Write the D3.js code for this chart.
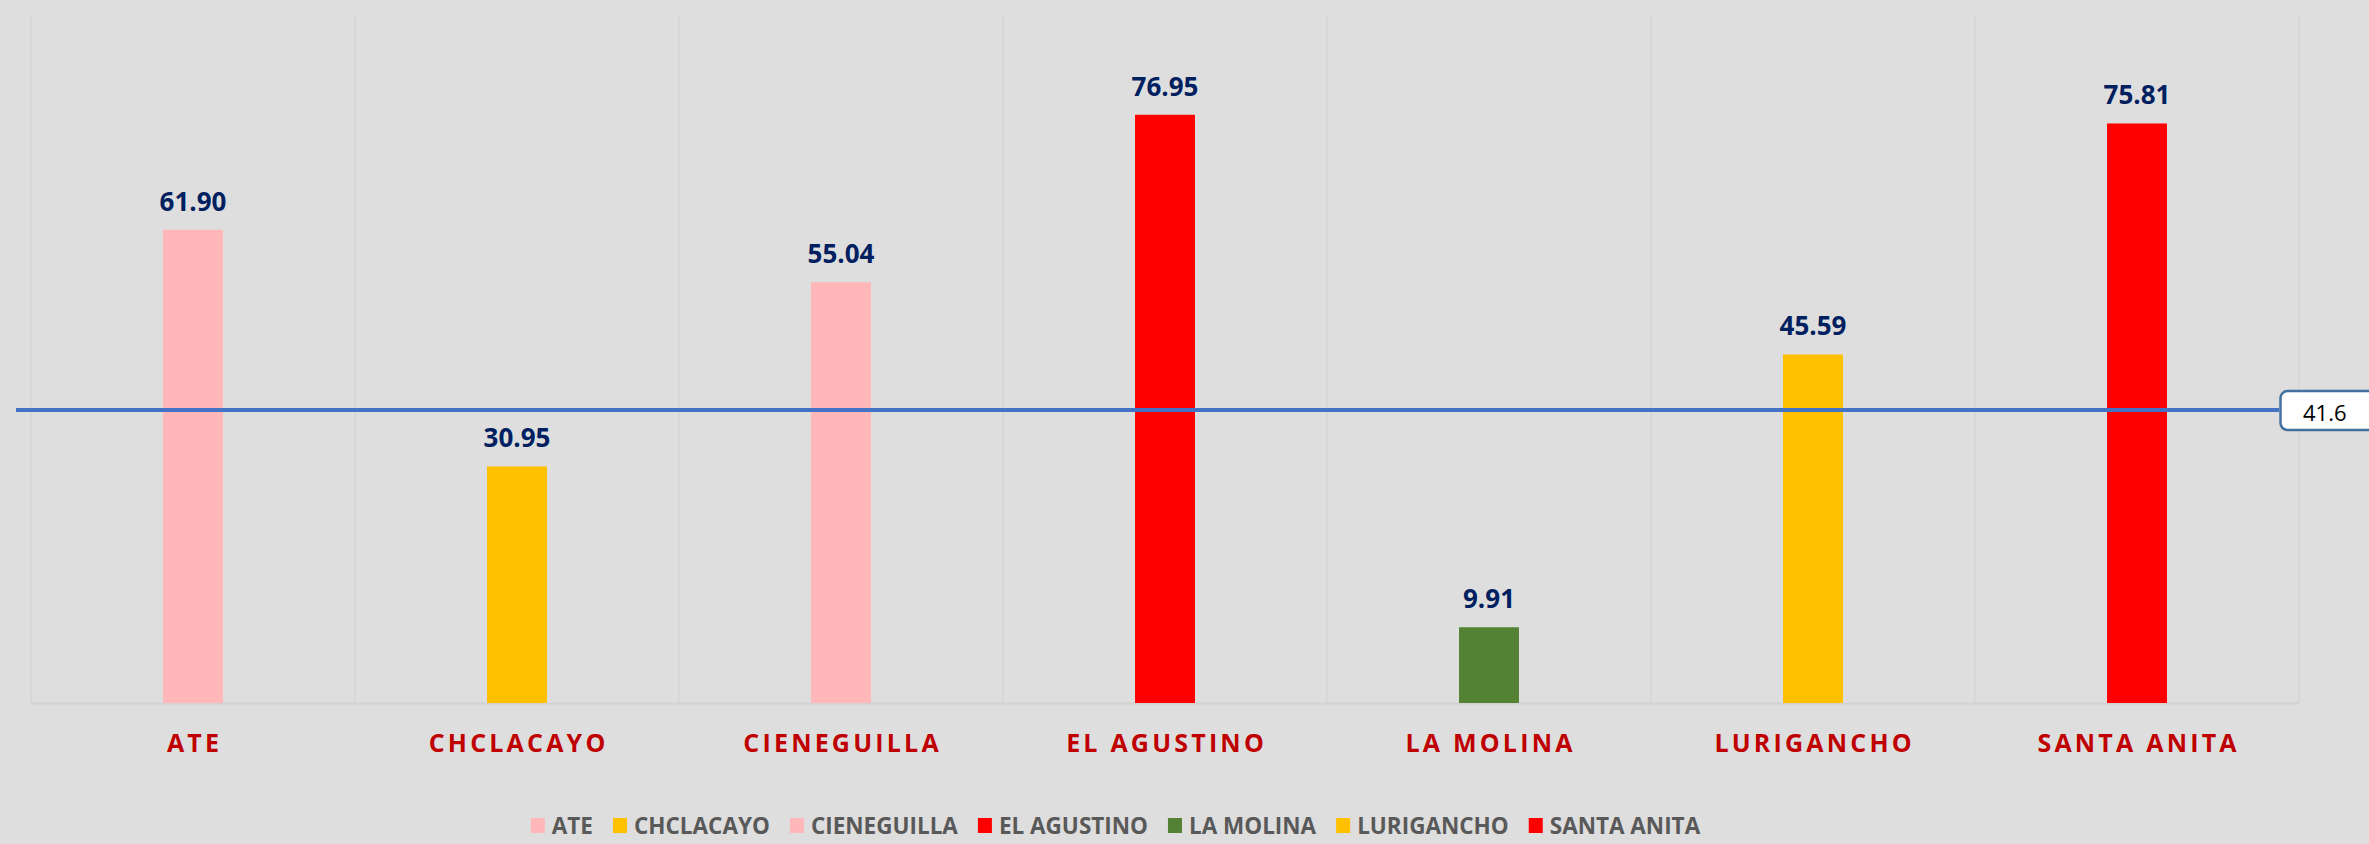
<!DOCTYPE html>
<html>
<head>
<meta charset="utf-8">
<script src="https://cdn.jsdelivr.net/npm/d3@7"></script>
<style>
  html, body { margin: 0; padding: 0; background: #dedede; }
  svg { display: block; }
</style>
</head>
<body>
<svg id="chart" width="2369" height="844"></svg>
<script>
// ---- data ----
const categories = ["ATE", "CHCLACAYO", "CIENEGUILLA", "EL AGUSTINO", "LA MOLINA", "LURIGANCHO", "SANTA ANITA"];
const values = [61.90, 30.95, 55.04, 76.95, 9.91, 45.59, 75.81];
const barColors = ["#ffb7b9", "#ffc000", "#ffb7b9", "#ff0000", "#548235", "#ffc000", "#ff0000"];
const averageValue = [41.6];
const yDomain = [0, 90];
const lineAxisDomain = [0, 97.7];

// ---- layout ----
const W = 2369, H = 844;
const plot = { left: 31, right: 2299, top: 15, bottom: 703 };
const svg = d3.select("#chart");

svg.append("rect").attr("width", W).attr("height", H).attr("fill", "#dedede");

const x = d3.scaleBand().domain(categories).range([plot.left, plot.right]).paddingInner(0).paddingOuter(0);
const y = d3.scaleLinear().domain(yDomain).range([plot.bottom, plot.top]);
const yLine = d3.scaleLinear().domain(lineAxisDomain).range([plot.bottom, plot.top]);

// vertical gridlines at category boundaries
const bounds = categories.map(c => x(c)).concat([x(categories[categories.length - 1]) + x.bandwidth()]);
svg.append("g").selectAll("line").data(bounds).join("line")
  .attr("x1", d => d).attr("x2", d => d)
  .attr("y1", plot.top).attr("y2", plot.bottom)
  .attr("stroke", "#d4d4d4").attr("stroke-width", 1.5);

// baseline
svg.append("line")
  .attr("x1", plot.left).attr("x2", plot.right)
  .attr("y1", plot.bottom + 0.5).attr("y2", plot.bottom + 0.5)
  .attr("stroke", "#d2d2d2").attr("stroke-width", 2);

// bars
const barW = x.bandwidth() * 0.185;
const rows = categories.map((c, i) => ({ c, v: values[i], col: barColors[i] }));
svg.append("g").selectAll("rect").data(rows).join("rect")
  .attr("x", d => x(d.c) + x.bandwidth() / 2 - barW / 2)
  .attr("width", barW)
  .attr("y", d => y(d.v))
  .attr("height", d => y(0) - y(d.v))
  .attr("fill", d => d.col);

// value labels
svg.append("g").selectAll("text").data(rows).join("text")
  .attr("x", d => x(d.c) + x.bandwidth() / 2)
  .attr("y", d => y(d.v) - 19)
  .attr("text-anchor", "middle")
  .attr("font-family", "'Open Sans', sans-serif")
  .attr("font-weight", 700)
  .attr("font-size", 26)
  .attr("fill", "#002060")
  .text(d => d.v.toFixed(2));

// category axis labels
const ls = 3.2;
svg.append("g").selectAll("text").data(categories).join("text")
  .attr("x", d => x(d) + x.bandwidth() / 2 + ls / 2)
  .attr("y", 752)
  .attr("text-anchor", "middle")
  .attr("font-family", "'Open Sans', sans-serif")
  .attr("font-weight", 700)
  .attr("font-size", 25)
  .attr("letter-spacing", ls)
  .attr("fill", "#c00000")
  .text(d => d);

// average line
const lineStartX = 16, lineEndX = 2279;
const lineData = [[lineStartX, averageValue[0]], [lineEndX, averageValue[0]]];
svg.append("path")
  .datum(lineData)
  .attr("d", d3.line().x(d => d[0]).y(d => yLine(d[1])))
  .attr("stroke", "#4472c4").attr("stroke-width", 4).attr("fill", "none");

// average label box
const ly = yLine(averageValue[0]);
svg.append("rect")
  .attr("x", lineEndX + 1.5).attr("y", ly - 19)
  .attr("width", 100).attr("height", 39)
  .attr("rx", 7).attr("ry", 7)
  .attr("fill", "#ffffff").attr("stroke", "#41719c").attr("stroke-width", 2.5);
svg.append("text")
  .attr("x", 2303).attr("y", ly + 11)
  .attr("font-family", "'Open Sans', sans-serif")
  .attr("font-size", 22)
  .attr("fill", "#000000")
  .text(averageValue[0].toFixed(1));

// legend
const legend = svg.append("g");
const items = legend.selectAll("g").data(rows).join("g");
items.append("rect").attr("width", 14).attr("height", 15).attr("y", 818).attr("fill", d => d.col);
items.append("text")
  .attr("x", 21).attr("y", 833.5)
  .attr("font-family", "'Open Sans', sans-serif")
  .attr("font-weight", 700)
  .attr("font-size", 22.5)
  .attr("fill", "#595959")
  .text(d => d.c);
let cx = 0;
const offsets = [];
items.each(function () {
  offsets.push(cx);
  const tw = d3.select(this).select("text").node().getComputedTextLength();
  cx += 21 + tw + 20;
});
const totalW = cx - 20;
const startX = 1115.5 - totalW / 2;
items.attr("transform", (d, i) => `translate(${startX + offsets[i]},0)`);
</script>
</body>
</html>
